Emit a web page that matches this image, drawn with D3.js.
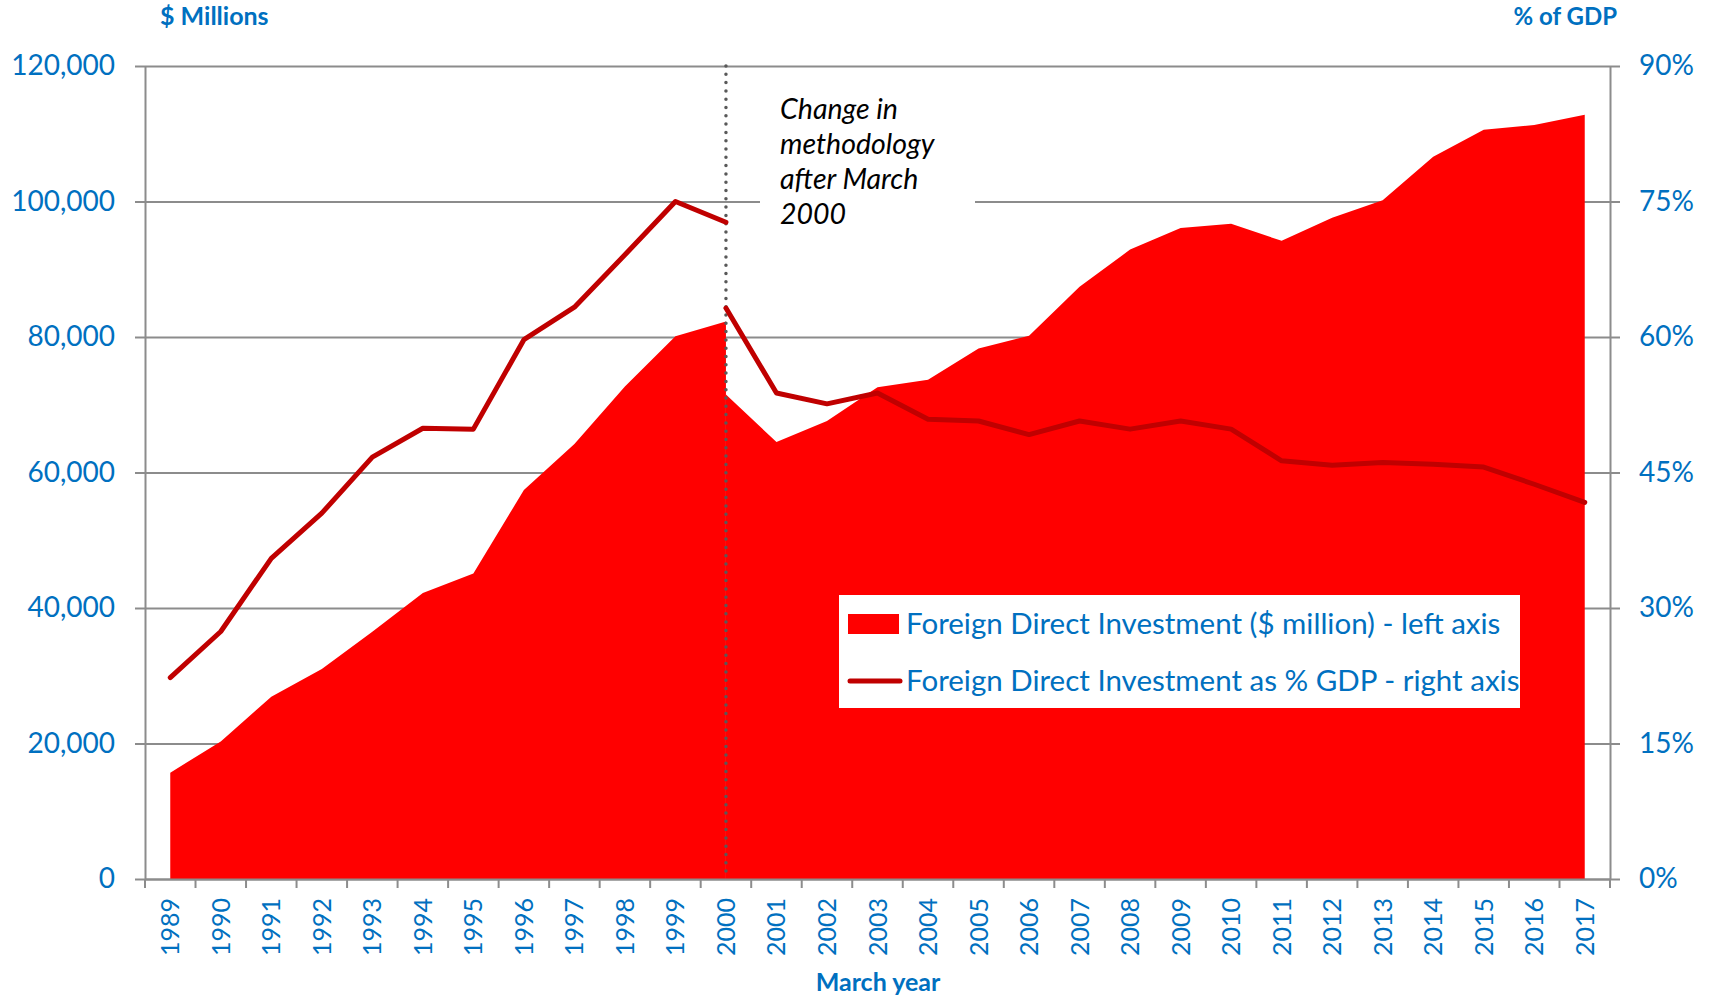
<!DOCTYPE html>
<html>
<head>
<meta charset="utf-8">
<script src="https://cdn.jsdelivr.net/npm/d3@7"></script>
<style>
  body { margin: 0; background: #fff; }
  text { font-family: Lato, "Open Sans", sans-serif; }
</style>
</head>
<body>
<div id="chart"></div>
<script>
// years on the x axis (March year)
const years = ["1989","1990","1991","1992","1993","1994","1995","1996","1997","1998","1999","2000",
  "2001","2002","2003","2004","2005","2006","2007","2008","2009","2010","2011","2012","2013","2014","2015","2016","2017"]

// FDI $ million, old methodology (1989-2000) and new one (2000-2017)
const fdiOldYears = years.slice(0, 12)
const fdiOld = [15700, 20300, 26900, 31000, 36500, 42200, 45100, 57400, 64200, 72700, 80100, 82300]
const fdiNewYears = years.slice(11)
const fdiNew = [71500, 64500, 67600, 72600, 73700, 78300, 80200, 87400, 92900, 96100, 96700, 94200,
  97600, 100200, 106600, 110600, 111300, 112800]

// FDI as % of GDP
const pctOld = [22.3, 27.4, 35.5, 40.5, 46.7, 49.9, 49.8, 59.7, 63.3, 69.1, 75.0, 72.7]
const pctNew = [63.2, 53.8, 52.6, 53.8, 50.9, 50.7, 49.2, 50.7, 49.8, 50.7, 49.8, 46.3,
  45.8, 46.1, 45.9, 45.6, 43.7, 41.7]

const leftTicks = [0, 20000, 40000, 60000, 80000, 100000, 120000]
const rightTicks = [0, 15, 30, 45, 60, 75, 90]
const breakYear = "2000"
const noteLines = ["Change in", "methodology", "after March", "2000"]
const legendLabels = ["Foreign Direct Investment ($ million) - left axis", "Foreign Direct Investment as % GDP - right axis"]

const width = 1713
const height = 997
const margin = {top: 66, bottom: 118, left: 145, right: 103}
const blue = "#0070C0"
const grey = "#8c8c8c"

const svg = d3.select("#chart").append("svg").attr("width", width).attr("height", height)

const x = d3.scaleBand().domain(years).range([margin.left, width - margin.right])
const cx = d => x(d) + x.bandwidth() / 2
const yL = d3.scaleLinear().domain([0, 120000]).range([height - margin.bottom, margin.top])
const yR = d3.scaleLinear().domain([0, 90]).range([height - margin.bottom, margin.top])
const bottom = height - margin.bottom
const right = width - margin.right

// gridlines
svg.append("g").attr("class", "grid")
  .attr("transform", `translate(${margin.left},0)`)
  .call(d3.axisLeft(yL).tickValues(leftTicks).tickSize(-(right - margin.left)).tickFormat(""))
  .call(g => g.select(".domain").remove())
  .selectAll("line").attr("stroke", grey).attr("stroke-width", 2)

// area (two pieces, step at the methodology change)
const area = d3.area().x(d => cx(d[0])).y0(bottom).y1(d => yL(d[1]))
svg.append("path").datum(d3.zip(fdiOldYears, fdiOld)).attr("d", area).attr("fill", "#FF0000")
svg.append("path").datum(d3.zip(fdiNewYears, fdiNew)).attr("d", area).attr("fill", "#FF0000")

// dotted break line
svg.append("line")
  .attr("x1", cx(breakYear)).attr("x2", cx(breakYear))
  .attr("y1", margin.top).attr("y2", bottom)
  .attr("stroke", "#595959").attr("stroke-width", 3.5)
  .attr("stroke-dasharray", "0 8.3").attr("stroke-linecap", "round")

// % of GDP line
const line = d3.line().x(d => cx(d[0])).y(d => yR(d[1]))
;[d3.zip(fdiOldYears, pctOld), d3.zip(fdiNewYears, pctNew)].forEach(s => {
  svg.append("path").datum(s).attr("d", line)
    .attr("fill", "none").attr("stroke", "#C00000").attr("stroke-width", 5)
    .attr("stroke-linejoin", "round").attr("stroke-linecap", "round")
})

// note
svg.append("rect").attr("x", 760).attr("y", 84).attr("width", 215).attr("height", 150).attr("fill", "#fff")
svg.append("text").attr("x", 780).attr("y", 119)
  .attr("font-size", 28.5).attr("font-style", "italic").attr("fill", "#000")
  .selectAll("tspan").data(noteLines).join("tspan")
  .attr("x", 780).attr("dy", (d, i) => i ? 35 : 0).text(d => d)

// axes
const styleAxis = g => {
  g.select(".domain").attr("stroke", grey).attr("stroke-width", 2)
  g.selectAll(".tick line").attr("stroke", grey).attr("stroke-width", 2)
  g.selectAll("text").attr("fill", blue).attr("font-size", 28).attr("font-family", "Lato")
}
svg.append("g").attr("transform", `translate(${margin.left},0)`)
  .call(d3.axisLeft(yL).tickValues(leftTicks).tickSize(10).tickSizeOuter(0).tickPadding(20).tickFormat(d3.format(",")))
  .call(styleAxis)
svg.append("g").attr("transform", `translate(${right},0)`)
  .call(d3.axisRight(yR).tickValues(rightTicks).tickSize(10).tickSizeOuter(0).tickPadding(19).tickFormat(d => d + "%"))
  .call(styleAxis)

const xAxisGroup = svg.append("g").attr("transform", `translate(0,${bottom})`)
  .call(d3.axisBottom(x).tickSize(0).tickSizeOuter(0))
  .call(styleAxis)
xAxisGroup.selectAll("text")
  .attr("font-family", "DejaVu Sans").attr("font-stretch", "condensed").attr("font-size", 25)
  .attr("transform", "rotate(-90)").attr("text-anchor", "end")
  .attr("x", -19).attr("y", 0).attr("dy", "0.36em")
xAxisGroup.selectAll(".boundary").data(years.map(d => x(d)).concat([right])).join("line")
  .attr("x1", d => d).attr("x2", d => d).attr("y1", 0).attr("y2", 9)
  .attr("stroke", grey).attr("stroke-width", 2)

// axis titles
svg.append("text").attr("x", 160).attr("y", 25).attr("font-size", 25).attr("font-weight", "bold")
  .attr("fill", blue).text("$ Millions")
svg.append("text").attr("x", 1617).attr("y", 25).attr("font-size", 24).attr("font-weight", "bold")
  .attr("fill", blue).attr("text-anchor", "end").text("% of GDP")
svg.append("text").attr("x", 878).attr("y", 991).attr("font-size", 25).attr("font-weight", "bold")
  .attr("fill", blue).attr("text-anchor", "middle").text("March year")

// legend
const legend = svg.append("g")
legend.append("rect").attr("x", 839).attr("y", 595).attr("width", 681).attr("height", 113).attr("fill", "#fff")
legend.append("rect").attr("x", 848).attr("y", 614).attr("width", 51).attr("height", 20).attr("fill", "#FF0000")
legend.append("line").attr("x1", 850).attr("x2", 900).attr("y1", 681).attr("y2", 681)
  .attr("stroke", "#C00000").attr("stroke-width", 5).attr("stroke-linecap", "round")
legend.selectAll(".lbl").data(legendLabels).join("text")
  .attr("x", 906).attr("y", (d, i) => 634 + i * 57)
  .attr("font-size", 29.5).attr("fill", blue).text(d => d)
</script>
</body>
</html>
